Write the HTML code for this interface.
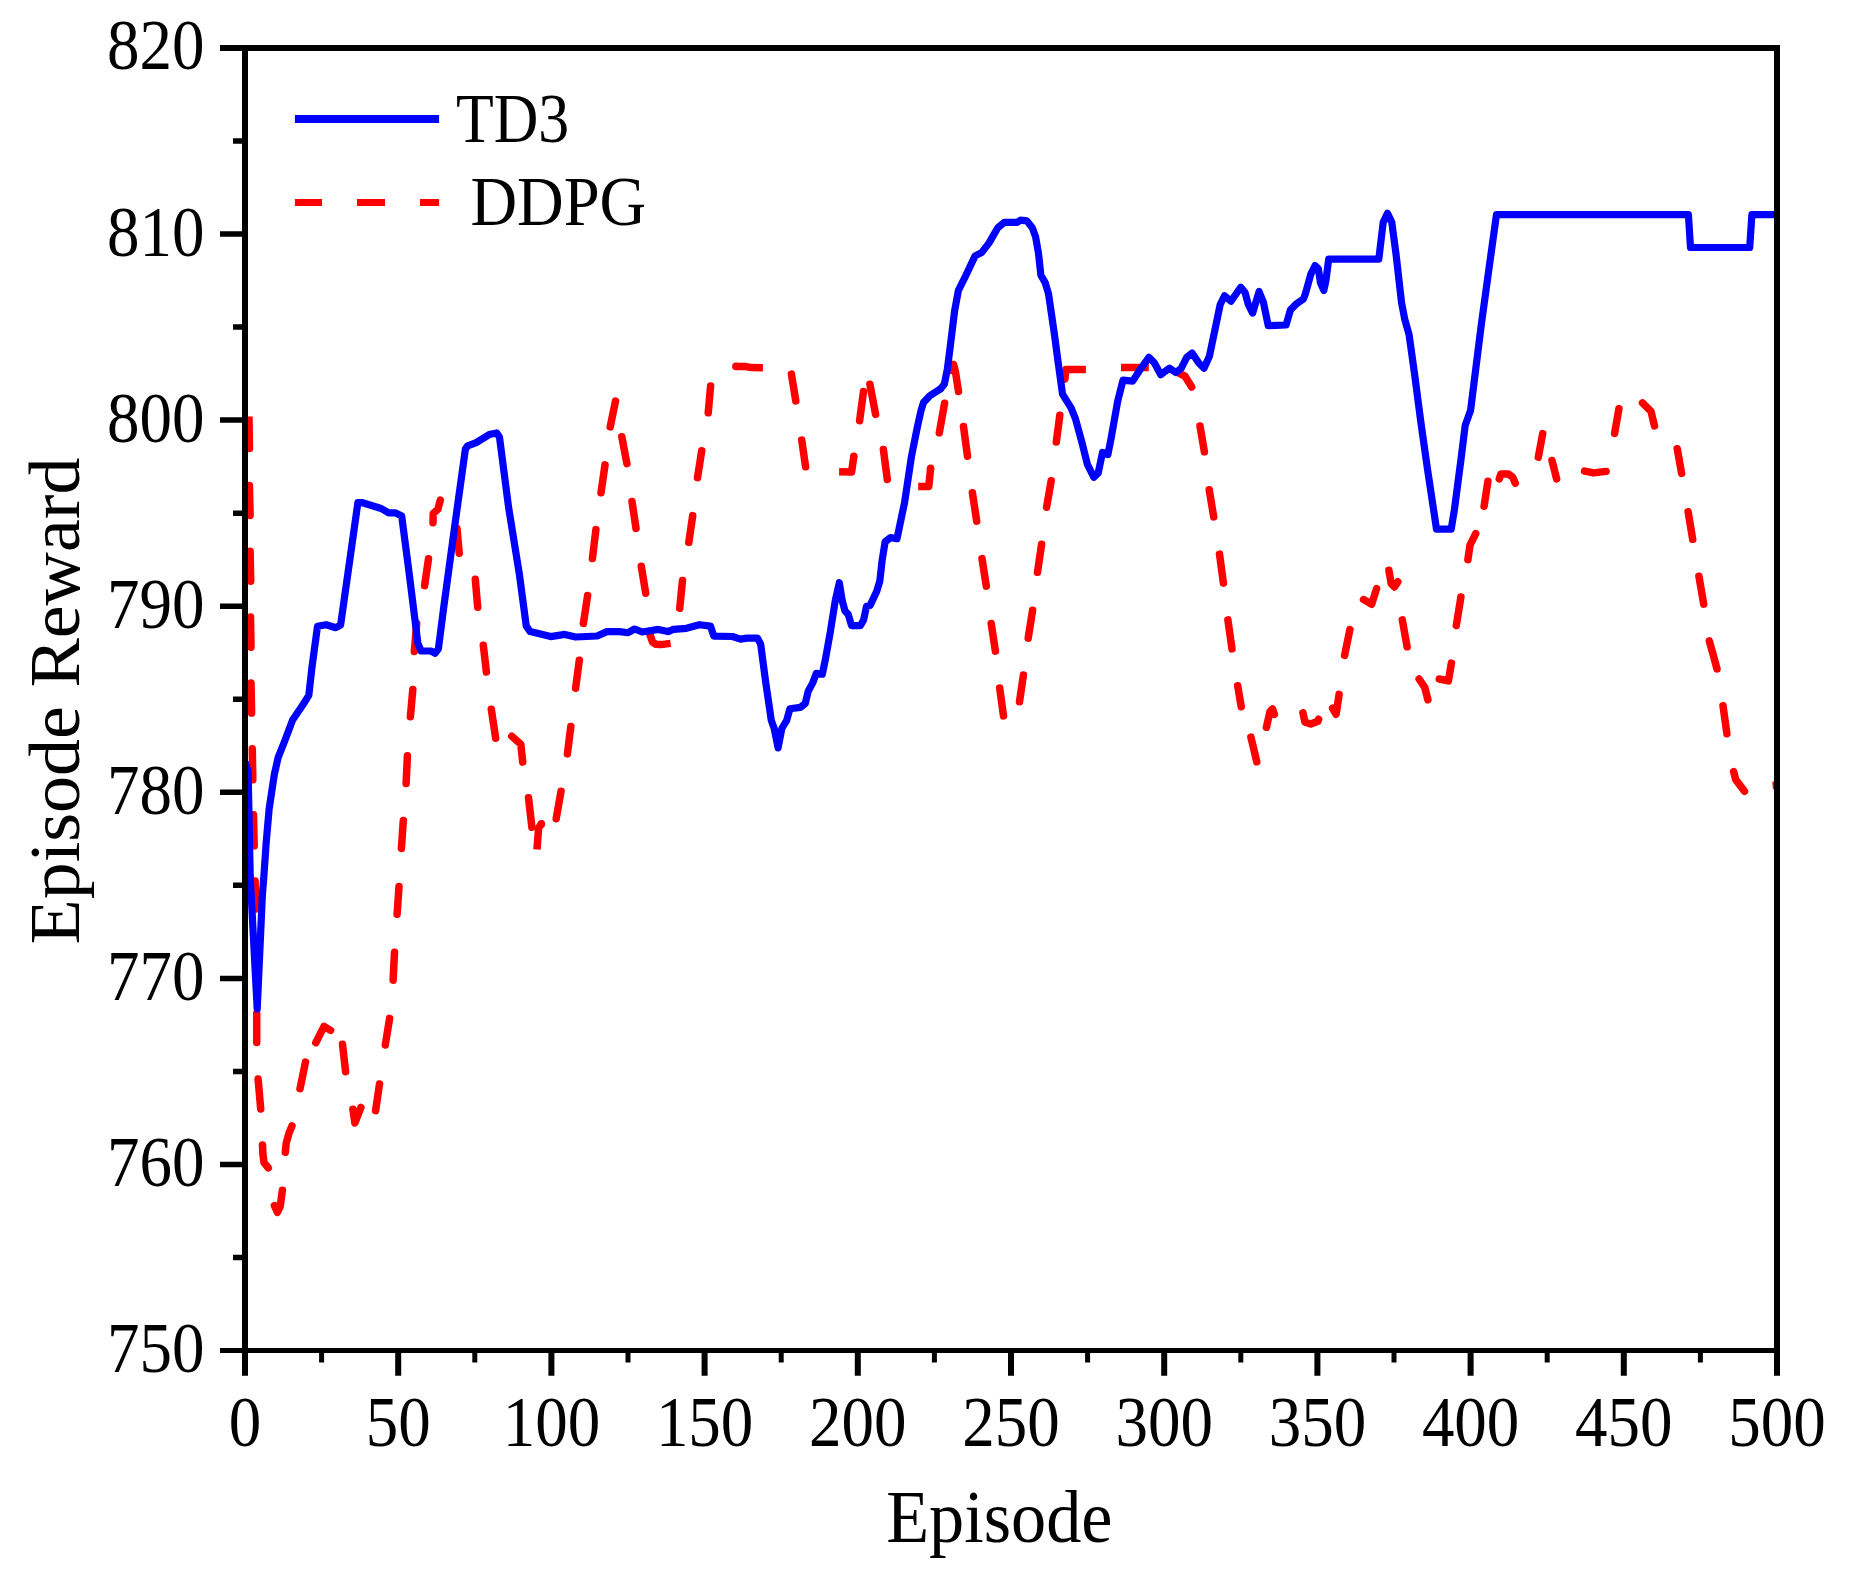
<!DOCTYPE html>
<html lang="en"><head><meta charset="utf-8"><title>Episode Reward: TD3 vs DDPG</title>
<style>
html,body{margin:0;padding:0;background:#fff;}
body{width:1855px;height:1574px;overflow:hidden;}
svg{display:block;}
text{font-family:"Liberation Serif",serif;fill:#000;}
.tick{font-size:71px;}
.title{font-size:74px;}
.leg{font-size:69px;}
.red{stroke:#f00;stroke-width:7.5;fill:none;stroke-linejoin:round;}
.rr{stroke-linecap:round;}
.rb{stroke-linecap:butt;}
.blue{stroke:#00f;stroke-width:7.2;fill:none;stroke-linejoin:round;stroke-linecap:butt;}
.ax{stroke:#000;fill:none;}
</style></head><body>
<svg width="1855" height="1574" viewBox="0 0 1855 1574">
<rect x="0" y="0" width="1855" height="1574" fill="#fff"/>
<defs><clipPath id="plot"><rect x="245" y="48" width="1532.1" height="1302.5"/></clipPath></defs>
<g clip-path="url(#plot)">
<g class="red rr">
<path d="M249.4 485.4 L250.1 515.4 M250.1 551.2 L250.7 581.3 M250.5 617.1 L251 647.2 M251 683 L251.6 713.1 M252.3 748.7 L252.8 779.8 M253.5 814.7 L254.2 845.8 M255.1 881 L255.9 908.9 M255.9 947.7 L256.4 976.3 M256.7 1013.5 L256.7 1042.5 M258.1 1079.1 L260.7 1109 M262.5 1144.9 L262.9 1154 L264 1162.6 L268.3 1167.8 M274.4 1205.7 L277.5 1212.3 L280.2 1206.4 L282.4 1190.3 M285.3 1152.3 L286.2 1143.2 L288.9 1133.5 L292 1125.9 M300 1088.7 L305.5 1062.1 M315.8 1042.7 L324 1026.4 L330.6 1030.4 M342.5 1044.3 L345.6 1071.7 M352.9 1109.3 L354.9 1123 L360.9 1107.4 M375.6 1110.6 L379.5 1084 M385.3 1045 L389.6 1018.4 M393.1 980.2 L394.5 952.2 M397.1 914.3 L399 886.4 M401.4 848.4 L403.3 820.5 M406.1 783.6 L407.4 755.7 M410.4 716.7 L412.8 689.5 M414.3 651.5 L416.7 623.6 M424.6 585.6 L428.5 558.8 M433 522.7 L433.2 513.5 L437.9 509.3 L440.3 500.1 M457 528.6 L459.2 553.2 M475.3 579.3 L477.7 607.2 M483.3 645.2 L486.4 672 M491.3 709.2 L495.7 738.2 M511.8 736.2 L520.8 744.3 L522.7 762 M528.5 797.8 L531.9 827.3 M556.2 818.7 L561 791.3 M567.4 753.9 L570.8 726.5 M575.6 688.2 L579.3 660.3 M583.4 623.4 L587.6 595.5 M592.4 558.6 L595.9 529.6 M601 492.8 L605 464.9 M610.2 426.9 L615.5 401.1 M621.8 436.7 L626.9 463.6 M632 501.5 L636 528.4 M641.3 566.3 L645.7 593.2 M679.7 608.3 L682.5 580.4 M688.8 542.4 L692.7 515.6 M697.5 477.6 L701.7 450.8 M708.2 412.8 L710.6 386 M791.4 374.1 L795.8 400.9 M801.7 440 L805.6 466.8 M859.6 420.7 L863.5 391.5 M869.9 384.3 L875.6 414.4 M883.4 449.4 L887.3 479.5 M939.3 432.8 L944.6 403.2 M951.1 370.4 L953.6 364.4 L955.5 372 L958.5 391.5 M963.5 426.5 L967.5 456.2 M972.4 492.7 L976.7 521.1 M982 558.6 L986.3 586.1 M991.2 623.5 L995.4 651.1 M999.7 688 L1003.5 715.9 M1019.5 701.8 L1023.4 675 M1028.2 638.1 L1032.6 610.2 M1037.5 572.3 L1041.6 544.3 M1046.6 507.2 L1051.2 480.7 M1056.3 442.1 L1059.8 415.2 M1179.7 373.7 L1185 376.2 L1191.7 387 M1200 426 L1204.4 451.8 M1209.2 489.7 L1213.7 516.9 M1219.5 554.1 L1223.4 583.1 M1227.9 619.9 L1232 648.9 M1237.7 685.8 L1241.2 706.7 M1250.9 737.1 L1256.8 761.8 M1266.4 727.3 L1270 711.6 L1272.5 708.9 L1274.4 714.4 M1302.9 712.8 L1304.9 721.9 L1310.8 724.1 L1317.9 721.3 L1318.6 719.2 M1332.6 708.3 L1336.1 714.3 L1339.1 694.4 M1344.6 655.4 L1349.9 629.6 M1363.5 599.6 L1371.7 604.2 L1376.6 588.5 M1388.9 570.3 L1391.2 583.7 L1394.4 586.9 L1397.8 581.8 M1402.3 619.9 L1407.1 646.8 M1419.1 679 L1424.7 687.3 L1427.9 699.8 M1439.3 679 L1448.4 680.9 L1451.4 663.1 M1456.3 625.5 L1460.9 597 M1467.9 559.6 L1470 545.1 L1475.7 533.6 M1484.1 506.3 L1487.9 481.2 M1499.2 478.9 L1500.9 474 L1508.4 474 L1512.7 477.3 L1515.3 483.2 M1538.3 457.2 L1542.7 433.6 M1552 460.5 L1556.6 478.9 M1584.6 471.1 L1593.7 472.9 L1606.1 471.4 M1614.6 433.4 L1618.9 408.8 M1642.5 402.9 L1651 411.4 L1654.5 425.9 M1677.2 448.7 L1681.6 473.4 M1688.1 511.7 L1692.7 539.3 M1698.9 576.2 L1703.7 604.1 M1709.3 640.9 L1713.1 654.4 L1717 669 M1723 705.8 L1726.9 733.7 M1733.6 771.6 L1735.8 779.7 L1744.5 791.3"/>
</g>
<g class="red rb">
<path d="M249 416.5 L249.4 448.5 M537 849.5 L538.6 827.9 L541.4 823.9 M650.2 635.3 L652.5 642 L656 644.3 L661 644.6 L670.6 643.4 M735.9 366.4 L746 366.6 L751 367.6 L762.9 367.7 M839.1 471.7 L851.6 471.9 L853.8 456.2 M918.2 486.5 L928.8 486.5 L930.6 468.3 M1064.7 379.1 L1066 369.6 L1085.9 369.4 M1121 367.4 L1148.8 367.4 M1772.6 785.4 L1777 785"/>
</g>
<g fill="#f00"><circle cx="249.4" cy="448.5" r="3.8"/><circle cx="541.4" cy="823.9" r="3.8"/><circle cx="650.2" cy="635.3" r="3.8"/><circle cx="735.9" cy="366.4" r="3.8"/><circle cx="853.8" cy="456.2" r="3.8"/><circle cx="930.6" cy="468.3" r="3.8"/><circle cx="1064.7" cy="379.1" r="3.8"/></g>
<path class="blue" d="M245 762 L248.1 771 L250.2 876 L257.2 1009 L262.4 894.4 L263.9 876 L266.1 843.7 L269.1 809.1 L274.3 774.6 L278.2 757.3 L285.1 740 L292.6 720 L303.4 704 L308.8 695.3 L312 667 L317.5 626.2 L326.1 624.7 L335.8 627.7 L340.6 625.1 L349.9 559.3 L357.9 502.5 L361.7 502.5 L381.2 508.5 L388.7 512.8 L395.2 512.8 L401.7 516 L409.3 574.4 L417.9 643.5 L421.1 651 L430.9 651 L435.2 653.2 L438.4 648.9 L443.8 606.8 L454.6 526.9 L465.4 449.1 L467.6 445.9 L476.2 442.6 L489.2 434.6 L496.7 432.9 L499.5 437.2 L508.6 507.4 L519.4 574.4 L526.3 626.2 L530.2 631.6 L550.7 636.6 L564.8 634.4 L575.6 637 L597.2 636 L606.9 631.6 L619.4 631.6 L628.1 632.7 L634.6 629 L642.1 632 L658.3 629.4 L668 631.6 L673.4 629.4 L686.4 628.3 L699.4 624.7 L710.5 626.1 L713.8 636.1 L732.4 636.5 L740.5 639.1 L747 638.1 L757.5 638.1 L760.7 644.2 L765.6 681.5 L771.3 720.4 L774.2 728.5 L778.1 747.9 L781.8 728.5 L786.7 720.4 L789.9 708.7 L800.4 707.4 L805.3 703.4 L808.2 691.2 L812.6 683.1 L816.3 673.4 L822.3 674.2 L825.5 658.8 L830.4 631.3 L835.3 600.5 L839.3 582.7 L842.2 600.5 L845 611 L848.2 614.3 L851.5 625.6 L860.4 625.6 L863.6 619.9 L866.5 606.2 L870.1 605.4 L876.6 591.6 L879.8 581.1 L882.2 560 L885.1 541.9 L890.5 537.6 L897 538.7 L902.4 512.8 L904.5 503 L911.4 456.9 L917.2 427.7 L921.1 410.3 L923.5 402.5 L929.8 395.7 L940.5 388.9 L944.4 384 L947.3 369.4 L950.2 347 L954.6 311 L958.4 290.4 L965.4 276.4 L975.1 255.9 L981.6 252.6 L989.1 242.9 L997.8 227.8 L1004.2 222.4 L1017.2 222.4 L1020.4 220.2 L1026.9 220.9 L1032.3 227.8 L1035.5 236.4 L1038.4 252.6 L1040.9 275.3 L1045.3 282.9 L1048.5 293.7 L1053.9 330.4 L1058.2 362.8 L1062.5 394.1 L1071.2 408.1 L1075.5 418.9 L1082 442.7 L1087.4 464.3 L1093.9 477.3 L1098.2 472.9 L1102.5 452.4 L1107.9 454.6 L1111.1 438.4 L1117.6 401.7 L1123 380.1 L1132.7 381.1 L1140.3 369.3 L1148.9 357.4 L1154.3 362.8 L1160.8 374.7 L1169.5 368.2 L1175.9 372.5 L1181.3 368.2 L1186.7 357.4 L1192.1 353.1 L1198.6 362.8 L1204 368.2 L1209.4 356.3 L1214.8 330.4 L1220.2 304.5 L1224.5 295.8 L1231 301.2 L1240.7 287.2 L1245.1 292.6 L1248.3 304.5 L1252.6 313.1 L1259.1 291.5 L1263.4 302.3 L1268.2 325.6 L1286.1 325 L1290.4 309.9 L1296.9 303.4 L1303.4 299.1 L1305.4 293.7 L1310.8 274.2 L1315.1 265.6 L1318.4 268.8 L1320.5 282.9 L1323.8 290.4 L1325.9 280.7 L1328.7 259.1 L1378.8 259.1 L1383.2 222.4 L1387.5 213.3 L1391.8 222.4 L1396.1 254.8 L1401.5 302.3 L1404.8 319.6 L1409.1 334.7 L1414.5 373.6 L1421 423.3 L1427.4 468.6 L1433.9 511.8 L1436.5 529.1 L1451.2 529.1 L1454.4 509.7 L1460.9 460 L1465.2 425.4 L1470.6 410.3 L1474.9 375.7 L1481.4 323.9 L1487.9 276.4 L1493.3 237.5 L1496.5 214.6 L1688.4 214.6 L1690.5 247.5 L1749.7 247.5 L1751.9 214.6 L1777 214.6"/>
</g>
<g class="ax">
<path d="M220 48 H1780" stroke-width="6"/>
<path d="M220 1350.5 H1780" stroke-width="5"/>
<path d="M245 45 V1375.8 M1777 45 V1375.8" stroke-width="6"/>
<path d="M233 141 H245 M220 234.1 H245 M233 327.1 H245 M220 420.1 H245 M233 513.2 H245 M220 606.2 H245 M233 699.2 H245 M220 792.3 H245 M233 885.3 H245 M220 978.4 H245 M233 1071.4 H245 M220 1164.4 H245 M233 1257.5 H245" stroke-width="5.5"/>
<path d="M398.2 1350.5 V1375.8 M551.4 1350.5 V1375.8 M704.6 1350.5 V1375.8 M857.8 1350.5 V1375.8 M1011 1350.5 V1375.8 M1164.2 1350.5 V1375.8 M1317.4 1350.5 V1375.8 M1470.6 1350.5 V1375.8 M1623.8 1350.5 V1375.8" stroke-width="6"/>
<path d="M321.6 1350.5 V1362.6 M474.8 1350.5 V1362.6 M628 1350.5 V1362.6 M781.2 1350.5 V1362.6 M934.4 1350.5 V1362.6 M1087.6 1350.5 V1362.6 M1240.8 1350.5 V1362.6 M1394 1350.5 V1362.6 M1547.2 1350.5 V1362.6 M1700.4 1350.5 V1362.6" stroke-width="5"/>
</g>
<g class="tick" text-anchor="end">
<text transform="translate(204.5,69.4) scale(0.915,1)">820</text>
<text transform="translate(204.5,255.5) scale(0.915,1)">810</text>
<text transform="translate(204.5,441.5) scale(0.915,1)">800</text>
<text transform="translate(204.5,627.6) scale(0.915,1)">790</text>
<text transform="translate(204.5,813.7) scale(0.915,1)">780</text>
<text transform="translate(204.5,999.8) scale(0.915,1)">770</text>
<text transform="translate(204.5,1185.8) scale(0.915,1)">760</text>
<text transform="translate(204.5,1371.9) scale(0.915,1)">750</text>
</g>
<g class="tick" text-anchor="middle">
<text transform="translate(245,1446.2) scale(0.915,1)">0</text>
<text transform="translate(398.2,1446.2) scale(0.915,1)">50</text>
<text transform="translate(551.4,1446.2) scale(0.915,1)">100</text>
<text transform="translate(704.6,1446.2) scale(0.915,1)">150</text>
<text transform="translate(857.8,1446.2) scale(0.915,1)">200</text>
<text transform="translate(1011,1446.2) scale(0.915,1)">250</text>
<text transform="translate(1164.2,1446.2) scale(0.915,1)">300</text>
<text transform="translate(1317.4,1446.2) scale(0.915,1)">350</text>
<text transform="translate(1470.6,1446.2) scale(0.915,1)">400</text>
<text transform="translate(1623.8,1446.2) scale(0.915,1)">450</text>
<text transform="translate(1777,1446.2) scale(0.915,1)">500</text>
</g>
<text class="title" text-anchor="middle" transform="translate(999.3,1542.3) scale(0.949,1)">Episode</text>
<text class="title" text-anchor="middle" transform="translate(79,701) scale(0.96,1) rotate(-90)">Episode Reward</text>
<path d="M294.9 119 H439.1" stroke="#00f" stroke-width="8" fill="none"/>
<path d="M294.9 202.45 H322 M357 202.45 H385 M420 202.45 H439.1" stroke="#f00" stroke-width="7" fill="none"/>
<text class="leg" transform="translate(456,141.8) scale(0.8955,1)">TD3</text>
<text class="leg" transform="translate(470.4,224.5) scale(0.936,1)">DDPG</text>
</svg>
</body></html>
